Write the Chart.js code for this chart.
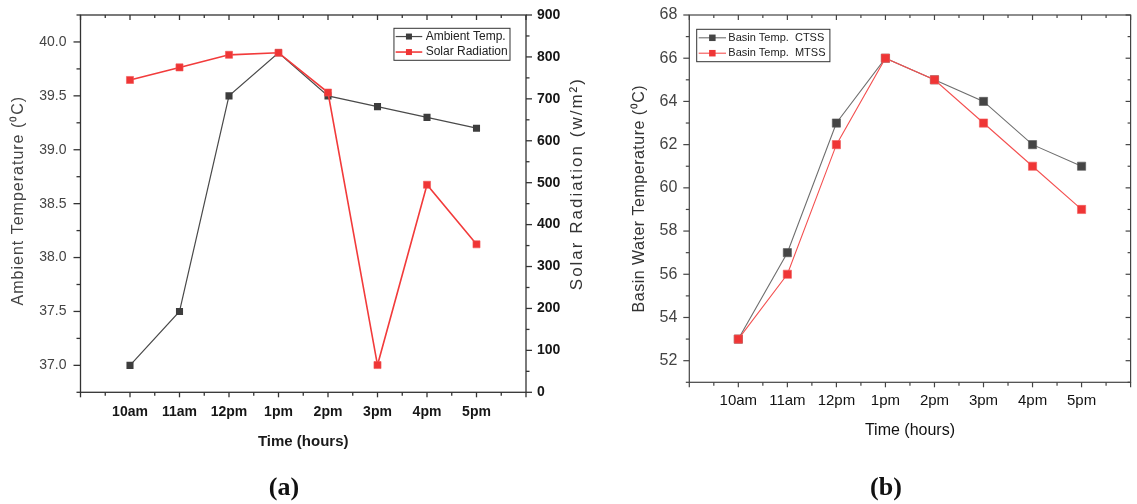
<!DOCTYPE html>
<html>
<head>
<meta charset="utf-8">
<title>Ambient / basin temperature</title>
<script src="https://cdn.jsdelivr.net/npm/chart.js@4.4.1/dist/chart.umd.min.js"></script>
<style>
  body { margin: 0; background: #fff; }
  #wrap { position: relative; width: 1137px; height: 504px; overflow: hidden; }
  canvas { position: absolute; top: 0; }
  #chartA { left: 0; }
  #chartB { left: 600px; }
  .tag { position: absolute; top: 472px; line-height: 30px; font: bold 26px "Liberation Serif", "Times New Roman", serif; color: #111; transform: translateX(-50%); }
</style>
</head>
<body>
<div id="wrap">
  <canvas id="chartA" width="600" height="504"></canvas>
  <canvas id="chartB" width="537" height="504"></canvas>
  <div class="tag" style="left:284px">(a)</div>
  <div class="tag" style="left:886px">(b)</div>
</div>
<script>
const hours = ['10am', '11am', '12pm', '1pm', '2pm', '3pm', '4pm', '5pm'];
const ambientTemp = [37.0, 37.5, 39.5, 39.9, 39.5, 39.4, 39.3, 39.2];
const solarRadiation = [745, 775, 805, 810, 715, 65, 495, 353];
const basinCTSS = [53, 57, 63, 66, 65, 64, 62, 61];
const basinMTSS = [53, 56, 62, 66, 65, 63, 61, 59];
const ambientTicks = [37.0, 37.5, 38.0, 38.5, 39.0, 39.5, 40.0];
const radiationTicks = [0, 100, 200, 300, 400, 500, 600, 700, 800, 900];
const basinTicks = [52, 54, 56, 58, 60, 62, 64, 66, 68];

const SANS = "'Liberation Sans', Arial, sans-serif";
Chart.defaults.font.family = SANS;

const points = vals => vals.map((v, i) => ({ x: i, y: v }));
// minor ticks sit halfway between the majors (and half a step past each end)
const halves = t => {
  const step = t[1] - t[0];
  const out = [t[0] - step / 2];
  t.forEach(v => out.push(v + step / 2));
  return out;
};
const xMajor = [];
for (let i = -1; i <= hours.length; i++) xMajor.push(i);
const xMinor = halves(xMajor);
const fixTicks = list => s => { s.ticks = list.map(v => ({ value: v })); };
// fixed axis width; drop the label overhang so the plot top stays at layout.padding.top
const fixWidth = w => s => { s.width = w; s.paddingTop = 0; s.paddingBottom = 0; };

// box frame with Origin-style major/minor ticks
const framePlugin = {
  id: 'frame',
  beforeDatasetsDraw(chart, args, opts) {
    const { ctx, chartArea: a } = chart;
    ctx.save();
    ctx.strokeStyle = opts.color;
    ctx.lineWidth = opts.width;
    ctx.strokeRect(a.left, a.top, a.right - a.left, a.bottom - a.top);
    for (const s of opts.sides) {
      const scale = chart.scales[s.scale];
      const tick = (v, len) => {
        if (v < scale.min - 1e-9 || v > scale.max + 1e-9) return;
        const p = scale.getPixelForValue(v);
        const d = s.out ? len : -len;
        ctx.beginPath();
        if (s.side === 'bottom') { ctx.moveTo(p, a.bottom); ctx.lineTo(p, a.bottom + d); }
        if (s.side === 'top') { ctx.moveTo(p, a.top); ctx.lineTo(p, a.top - d); }
        if (s.side === 'left') { ctx.moveTo(a.left, p); ctx.lineTo(a.left - d, p); }
        if (s.side === 'right') { ctx.moveTo(a.right, p); ctx.lineTo(a.right + d, p); }
        ctx.stroke();
      };
      s.major.forEach(v => tick(v, s.len[0]));
      s.minor.forEach(v => tick(v, s.len[1]));
    }
    ctx.restore();
  }
};

// rotated, letter-spaced axis titles
const sideTitlePlugin = {
  id: 'sideTitles',
  afterDraw(chart, args, opts) {
    const { ctx, chartArea: a } = chart;
    for (const t of opts.items) {
      ctx.save();
      const x = t.side === 'left' ? a.left - t.gap : a.right + t.gap;
      const y = (a.top + a.bottom) / 2 + (t.shift || 0);
      ctx.translate(x, y);
      ctx.rotate(-Math.PI / 2);
      ctx.font = t.font;
      ctx.fillStyle = t.color;
      ctx.letterSpacing = t.spacing;
      ctx.textAlign = 'center';
      ctx.textBaseline = 'middle';
      ctx.fillText(t.text, 0, 0);
      ctx.restore();
    }
  }
};

// framed legend inside the plot: line - square - line, then the label
const boxLegendPlugin = {
  id: 'boxLegend',
  afterDraw(chart, args, opts) {
    const { ctx, chartArea: a } = chart;
    const sets = chart.data.datasets;
    ctx.save();
    ctx.font = opts.font;
    const textW = Math.max(...sets.map(d => ctx.measureText(d.label).width));
    const w = opts.padLeft + opts.symbol + opts.gap + textW + opts.padRight;
    const h = opts.rowHeight * sets.length + opts.padY * 2;
    const left = opts.anchor === 'right' ? a.right - opts.dx - w : a.left + opts.dx;
    const top = a.top + opts.dy;
    ctx.strokeStyle = opts.borderColor;
    ctx.lineWidth = 1;
    ctx.strokeRect(left, top, w, h);
    sets.forEach((d, i) => {
      const cy = top + opts.padY + opts.rowHeight * (i + 0.5);
      const x0 = left + opts.padLeft;
      ctx.strokeStyle = d.borderColor;
      ctx.lineWidth = d.borderWidth;
      ctx.beginPath();
      ctx.moveTo(x0, cy);
      ctx.lineTo(x0 + opts.symbol, cy);
      ctx.stroke();
      const m = opts.marker;
      ctx.fillStyle = d.pointBackgroundColor;
      ctx.fillRect(x0 + opts.symbol / 2 - m / 2, cy - m / 2, m, m);
      ctx.fillStyle = opts.color;
      ctx.textAlign = 'left';
      ctx.textBaseline = 'middle';
      ctx.fillText(d.label, x0 + opts.symbol + opts.gap, cy);
    });
    ctx.restore();
  }
};

const plugins = [framePlugin, sideTitlePlugin, boxLegendPlugin];

// (a) ambient temperature and solar radiation
new Chart(document.getElementById('chartA'), {
  type: 'line',
  data: {
    datasets: [
      {
        label: 'Ambient Temp.',
        data: points(ambientTemp),
        yAxisID: 'y',
        order: 1,
        borderColor: '#4a4a4a',
        borderWidth: 1.2,
        pointStyle: 'rect',
        pointRadius: 5,
        pointBackgroundColor: '#3d3d3d',
        pointBorderColor: '#3d3d3d',
        pointBorderWidth: 0
      },
      {
        label: 'Solar Radiation',
        data: points(solarRadiation),
        yAxisID: 'y1',
        order: 0,
        borderColor: '#f23b3b',
        borderWidth: 1.6,
        pointStyle: 'rect',
        pointRadius: 5,
        pointBackgroundColor: '#ef3535',
        pointBorderColor: '#f25555',
        pointBorderWidth: 0.6
      }
    ]
  },
  options: {
    responsive: false,
    animation: false,
    layout: { padding: { top: 15, left: 0, right: 30, bottom: 51.7 } },
    plugins: {
      legend: { display: false },
      tooltip: { enabled: false },
      frame: {
        color: '#333', width: 1.3,
        sides: [
          { side: 'bottom', scale: 'x', major: xMajor, minor: xMinor, out: true, len: [5, 3.5] },
          { side: 'top', scale: 'x', major: xMajor, minor: xMinor, out: false, len: [5, 3] },
          { side: 'left', scale: 'y', major: ambientTicks, minor: halves(ambientTicks), out: true, len: [7, 4] },
          { side: 'right', scale: 'y1', major: radiationTicks, minor: halves(radiationTicks), out: true, len: [6, 3.5] }
        ]
      },
      sideTitles: {
        items: [
          { side: 'left', gap: 61.5, shift: -3, text: 'Ambient Temperature (\u2070C)', font: '16px ' + SANS, color: '#444', spacing: '1px' },
          { side: 'right', gap: 51, shift: -20, text: 'Solar Radiation (w/m\u00B2)', font: '17px ' + SANS, color: '#333', spacing: '2px' }
        ]
      },
      boxLegend: {
        anchor: 'right', dx: 16, dy: 13.3,
        font: '12px ' + SANS, color: '#222', borderColor: '#333',
        padLeft: 1.7, symbol: 26.6, gap: 3.4, padRight: 2.3,
        rowHeight: 15.5, padY: 0.5, marker: 6
      }
    },
    scales: {
      x: {
        type: 'linear', min: -1, max: 8,
        afterBuildTicks: fixTicks(hours.map((h, i) => i)),
        ticks: { callback: v => hours[v], font: { size: 14, weight: 'bold' }, color: '#161616', padding: 11, maxRotation: 0, autoSkip: false },
        grid: { display: false, drawTicks: false },
        border: { display: false },
        title: { display: true, text: 'Time (hours)', font: { size: 15, weight: 'bold' }, color: '#1a1a1a', padding: { top: 0, bottom: 1.6 } },
        afterFit: s => { s.height = 60; }
      },
      y: {
        position: 'left', min: 36.75, max: 40.25,
        afterBuildTicks: fixTicks(ambientTicks),
        ticks: { callback: v => v.toFixed(1), font: { size: 14 }, color: '#444', padding: 14 },
        grid: { display: false, drawTicks: false },
        border: { display: false },
        afterFit: fixWidth(80.5)
      },
      y1: {
        position: 'right', min: 0, max: 900,
        afterBuildTicks: fixTicks(radiationTicks),
        ticks: { callback: v => v, font: { size: 14, weight: 'bold' }, color: '#161616', padding: 11 },
        grid: { display: false, drawTicks: false },
        border: { display: false },
        afterFit: fixWidth(44)
      }
    }
  },
  plugins
});

// (b) basin water temperature, conventional vs modified still
new Chart(document.getElementById('chartB'), {
  type: 'line',
  data: {
    datasets: [
      {
        label: 'Basin Temp.  CTSS',
        data: points(basinCTSS),
        order: 1,
        borderColor: '#6e6e6e',
        borderWidth: 1.1,
        pointStyle: 'rect',
        pointRadius: 5.8,
        pointBackgroundColor: '#454545',
        pointBorderColor: '#5a5a5a',
        pointBorderWidth: 0.6
      },
      {
        label: 'Basin Temp.  MTSS',
        data: points(basinMTSS),
        order: 0,
        borderColor: '#f45050',
        borderWidth: 1.1,
        pointStyle: 'rect',
        pointRadius: 5.8,
        pointBackgroundColor: '#ef3535',
        pointBorderColor: '#f25a5a',
        pointBorderWidth: 0.6
      }
    ]
  },
  options: {
    responsive: false,
    animation: false,
    layout: { padding: { top: 15, left: 0, right: 1, bottom: 61.7 } },
    plugins: {
      legend: { display: false },
      tooltip: { enabled: false },
      frame: {
        color: '#444', width: 1.2,
        sides: [
          { side: 'bottom', scale: 'x', major: xMajor, minor: xMinor, out: true, len: [5, 3.5] },
          { side: 'top', scale: 'x', major: xMajor, minor: xMinor, out: false, len: [5, 3] },
          { side: 'left', scale: 'y', major: basinTicks, minor: halves(basinTicks), out: true, len: [6, 3.5] },
          { side: 'right', scale: 'y', major: basinTicks, minor: halves(basinTicks), out: false, len: [5, 3] }
        ]
      },
      sideTitles: {
        items: [
          { side: 'left', gap: 49.3, shift: 0, text: 'Basin Water Temperature (\u2070C)', font: '16px ' + SANS, color: '#333', spacing: '0.5px' }
        ]
      },
      boxLegend: {
        anchor: 'left', dx: 7.4, dy: 14.3,
        font: '11px ' + SANS, color: '#222', borderColor: '#333',
        padLeft: 2, symbol: 27.3, gap: 2.3, padRight: 4.4,
        rowHeight: 15.4, padY: 0.8, marker: 6.5
      }
    },
    scales: {
      x: {
        type: 'linear', min: -1, max: 8,
        afterBuildTicks: fixTicks(hours.map((h, i) => i)),
        ticks: { callback: v => hours[v], font: { size: 15 }, color: '#111', padding: 10, maxRotation: 0, autoSkip: false },
        grid: { display: false, drawTicks: false },
        border: { display: false },
        title: { display: true, text: 'Time (hours)', font: { size: 16 }, color: '#111', padding: { top: 0, bottom: 2 } },
        afterFit: s => { s.height = 60; }
      },
      y: {
        position: 'left', min: 51, max: 68,
        afterBuildTicks: fixTicks(basinTicks),
        ticks: { callback: v => v, font: { size: 16 }, color: '#444', padding: 12 },
        grid: { display: false, drawTicks: false },
        border: { display: false },
        afterFit: fixWidth(89.3)
      }
    }
  },
  plugins
});
</script>
</body>
</html>
